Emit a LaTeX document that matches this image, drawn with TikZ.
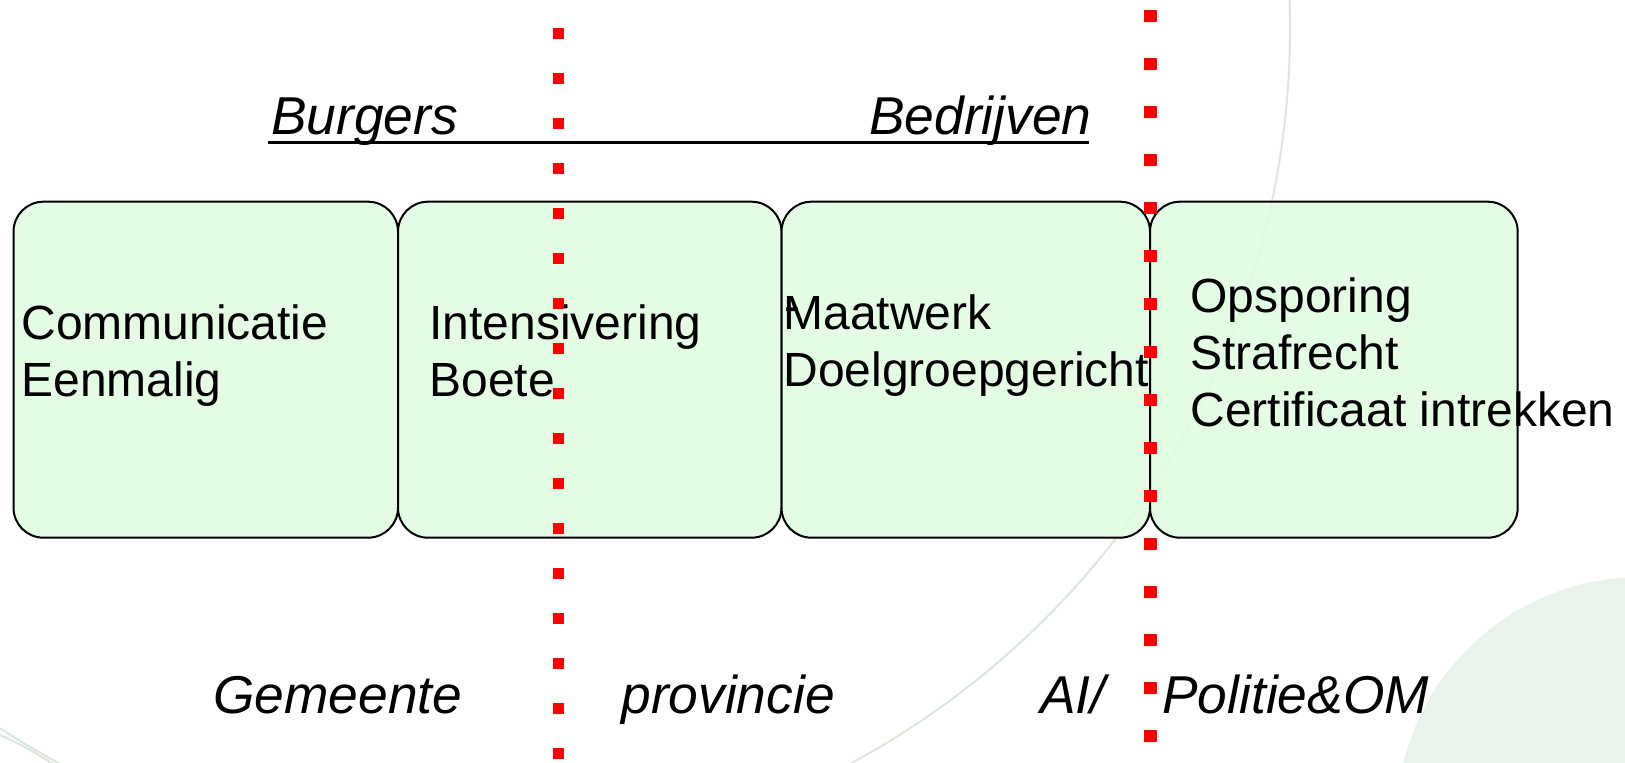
\documentclass[tikz,border=0pt]{standalone}
\usepackage{fontspec}
\setmainfont{Liberation Sans}
\definecolor{boxfill}{RGB}{224,252,224}
\definecolor{bgline}{RGB}{218,232,218}
\definecolor{bgdisk}{RGB}{234,243,235}
\definecolor{dotred}{RGB}{255,0,0}
\begin{document}
\begin{tikzpicture}[x=0.5pt,y=-0.5pt,
  stagebox/.style={draw=black, line width=1pt, fill=boxfill, fill opacity=0.9,
    rounded corners=15pt, inner sep=0pt, outer sep=0pt, minimum height=168pt},
  boxtext/.style={inner sep=0pt, anchor=base west, align=left,
    font=\fontsize{24pt}{28.5pt}\selectfont},
  lbl/.style={inner sep=0pt, anchor=base west,
    font=\fontsize{26.65pt}{30pt}\selectfont\itshape},
  deco/.style={draw=bgline, line width=1pt},
  reddot/.style={fill=dotred}]
\useasboundingbox (0,0) rectangle (1625,763);
% background decoration
\fill[bgdisk] (1641,822) circle[radius=245];
\draw[deco] (455,28) circle[radius=835];
\draw[deco] (0,735) .. controls (22,745) .. (55,765);
% stage boxes
\node[stagebox, minimum width=192.25pt] (b1) at (205.75,369.7) {};
\node[stagebox, minimum width=191.75pt] (b2) at (589.75,369.7) {};
\node[stagebox, minimum width=184.25pt] (b3) at (965.75,369.7) {};
\node[stagebox, minimum width=183.85pt] (b4) at (1333.85,369.7) {};
% box texts (anchor = baseline of the last line)
\node[boxtext] (t1) at (21,397) {Communicatie\\Eenmalig};
\node[boxtext] (t2) at (429,397) {Intensivering\\Boete};
\node[boxtext] (t3) at (783,387) {Maatwerk\\Doelgroepgericht};
\node[boxtext] (t3dash) at (784,323) {-};
\node[boxtext] (t4) at (1190,427) {Opsporing\\Strafrecht\\Certificaat intrekken};
% top labels
\node[lbl] (burgers) at (271,135) {Burgers};
\node[lbl] (bedrijven) at (869,135) {Bedrijven};
\coordinate (ulA) at (268,143);
\coordinate (ulB) at (1089,143);
\draw[line width=1.5pt] (ulA) -- (ulB);
% bottom labels
\node[lbl] (gem) at (213,713) {Gemeente};
\node[lbl] (prov) at (621,713) {provincie};
\node[lbl] (ai) at (1040,713) {AI/};
\node[lbl] (pol) at (1162,713) {Politie\&OM};
% red dotted dividers
\foreach \k in {0,...,16} \fill[reddot] (553,28+45*\k) rectangle (564,39+45*\k);
\foreach \k in {0,...,15} \fill[reddot] (1144,10+48*\k) rectangle (1157,22+48*\k);
\end{tikzpicture}
\end{document}
